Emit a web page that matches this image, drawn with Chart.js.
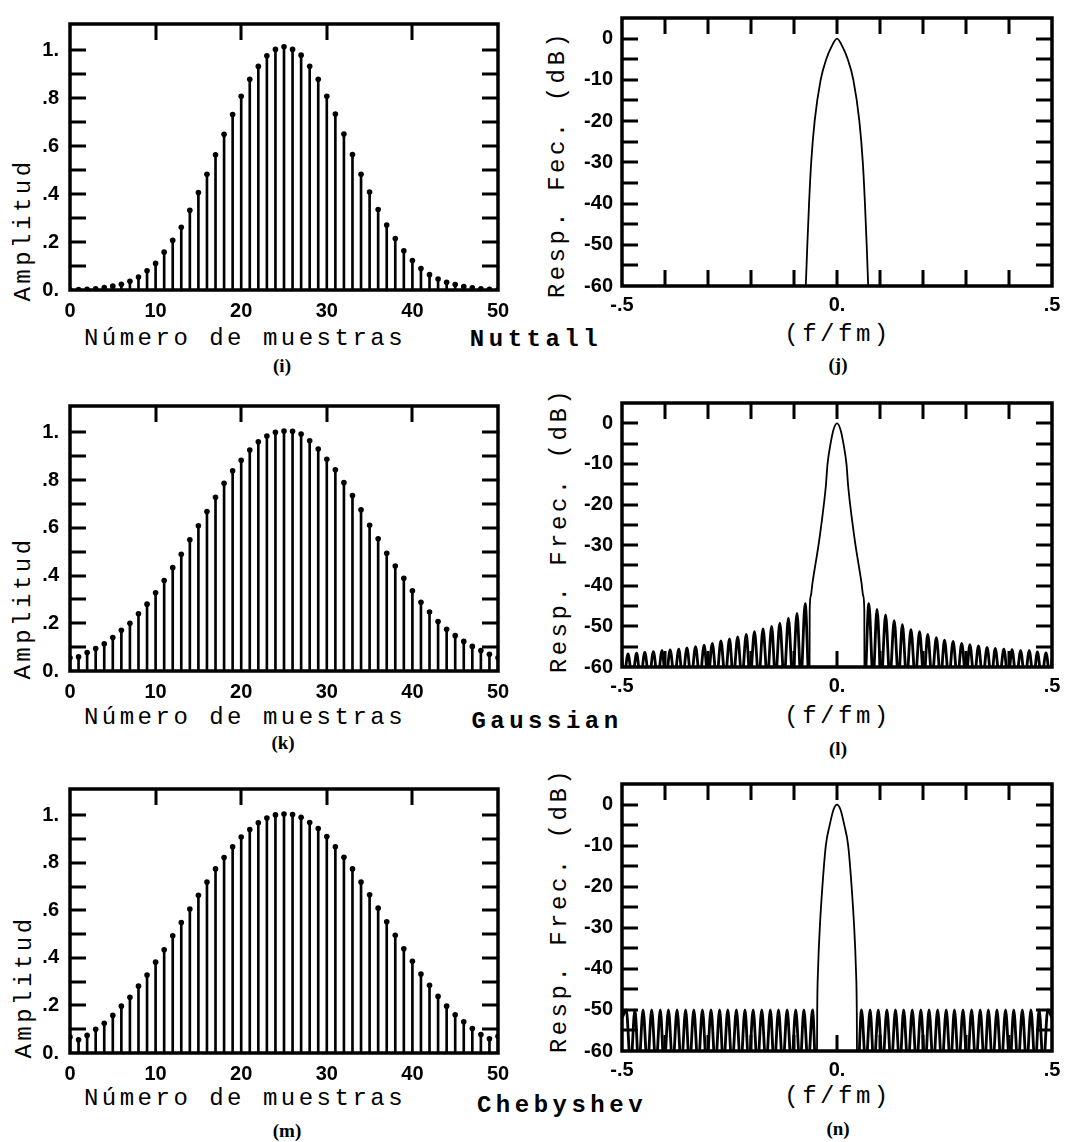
<!DOCTYPE html>
<html>
<head>
  <meta charset="utf-8">
  <title>Ventanas Nuttall, Gaussian, Chebyshev</title>
  <script src="https://cdn.jsdelivr.net/npm/chart.js"></script>
  <style>
    body { margin: 0; background: #fff; }
    #page { position: relative; width: 1076px; height: 1142px; overflow: hidden; background: #fff; }
    canvas { position: absolute; }
    .lbl {
      position: absolute; transform: translate(-50%, -50%); white-space: pre;
      font-family: "Liberation Mono", monospace; font-size: 24px; letter-spacing: 3.5px;
      color: #000; line-height: 1;
    }
    .rot { transform: translate(-50%, -50%) rotate(-90deg); }
    .win { font-weight: bold; letter-spacing: 4.5px; }
    .cap { font-family: "Liberation Serif", serif; font-weight: bold; font-size: 19px; letter-spacing: 0; }
  </style>
</head>
<body>
<div id="page">
  <div class="lbl rot" style="left:24px; top:230px;">Amplitud</div>
  <div class="lbl" style="left:245px; top:339px;">Número de muestras</div>
  <div class="lbl cap" style="left:282px; top:365px;">(i)</div>
  <div class="lbl win" style="left:536px; top:340px;">Nuttall</div>
  <div class="lbl rot" style="left:558px; top:164px;">Resp. Fec. (dB)</div>
  <div class="lbl" style="left:838px; top:335px;">(f/fm)</div>
  <div class="lbl cap" style="left:838px; top:364px;">(j)</div>

  <div class="lbl rot" style="left:24px; top:608px;">Amplitud</div>
  <div class="lbl" style="left:245px; top:718px;">Número de muestras</div>
  <div class="lbl cap" style="left:283px; top:742px;">(k)</div>
  <div class="lbl win" style="left:547px; top:722px;">Gaussian</div>
  <div class="lbl rot" style="left:560px; top:530px;">Resp. Frec. (dB)</div>
  <div class="lbl" style="left:838px; top:717px;">(f/fm)</div>
  <div class="lbl cap" style="left:838px; top:748px;">(l)</div>

  <div class="lbl rot" style="left:25px; top:987px;">Amplitud</div>
  <div class="lbl" style="left:245px; top:1099px;">Número de muestras</div>
  <div class="lbl cap" style="left:287px; top:1130px;">(m)</div>
  <div class="lbl win" style="left:562px; top:1106px;">Chebyshev</div>
  <div class="lbl rot" style="left:560px; top:910px;">Resp. Frec. (dB)</div>
  <div class="lbl" style="left:838px; top:1097px;">(f/fm)</div>
  <div class="lbl cap" style="left:838px; top:1128px;">(n)</div>
</div>

<script>
  // ---- data ----
  const sampleIdx = [0,1,2,3,4,5,6,7,8,9,10,11,12,13,14,15,16,17,18,19,20,21,22,23,24,25,
    26,27,28,29,30,31,32,33,34,35,36,37,38,39,40,41,42,43,44,45,46,47,48,49,50];

  const nuttallAmp = [0.001,0.002,0.003,0.005,0.010,0.016,0.024,0.036,0.054,0.080,
    0.111,0.158,0.207,0.262,0.333,0.407,0.483,0.564,0.650,0.732,
    0.808,0.879,0.933,0.977,1.004,1.015,
    1.004,0.980,0.934,0.879,0.808,0.734,0.651,0.565,0.483,0.409,
    0.336,0.271,0.215,0.164,0.123,0.090,0.064,0.046,0.032,0.023,
    0.014,0.009,0.005,0.003,0.001];

  const gaussAmp = [0.055,0.059,0.077,0.094,0.114,0.140,0.171,0.200,0.240,0.280,
    0.328,0.379,0.433,0.489,0.550,0.608,0.668,0.728,0.786,0.839,
    0.883,0.926,0.960,0.984,1.000,1.005,
    1.004,0.993,0.964,0.930,0.887,0.843,0.789,0.735,0.675,0.610,
    0.554,0.493,0.440,0.388,0.336,0.288,0.247,0.207,0.175,0.148,
    0.124,0.103,0.086,0.070,0.055];

  const chebAmp = [0.067,0.056,0.074,0.100,0.125,0.158,0.197,0.234,0.281,0.328,
    0.382,0.434,0.493,0.549,0.605,0.663,0.719,0.774,0.822,0.867,
    0.908,0.940,0.968,0.988,1.001,1.005,
    1.003,0.991,0.969,0.944,0.910,0.867,0.823,0.774,0.719,0.665,
    0.609,0.552,0.495,0.438,0.386,0.332,0.285,0.238,0.197,0.161,
    0.131,0.103,0.078,0.060,0.070];

  const nuttallFreq = [-0.074,-0.069,-0.065,-0.060,-0.052,-0.038,-0.025,-0.013,0,
    0.013,0.025,0.038,0.052,0.060,0.065,0.069,0.074];
  const nuttallDb = [-64,-50,-40,-30,-20,-10,-5,-2,0,-2,-5,-10,-20,-30,-40,-50,-64];

  const gaussFreq = [-0.500,-0.496,-0.486,-0.476,-0.466,-0.457,-0.447,-0.437,-0.427,-0.417,
    -0.407,-0.398,-0.388,-0.378,-0.368,-0.359,-0.349,-0.339,-0.329,-0.319,
    -0.309,-0.300,-0.290,-0.280,-0.270,-0.260,-0.250,-0.241,-0.231,-0.221,
    -0.211,-0.202,-0.192,-0.182,-0.172,-0.162,-0.152,-0.143,-0.133,-0.123,
    -0.113,-0.103,-0.093,-0.084,-0.074,-0.064,
    -0.0635,-0.061,-0.057,-0.050,-0.043,-0.036,-0.026,-0.022,-0.015,-0.008,0,
    0.008,0.015,0.022,0.026,0.036,0.043,0.050,0.057,0.061,0.0635,
    0.064,0.074,0.084,0.093,0.103,0.113,0.123,0.133,0.143,0.152,
    0.162,0.172,0.182,0.192,0.202,0.211,0.221,0.231,0.241,0.250,
    0.260,0.270,0.280,0.290,0.300,0.309,0.319,0.329,0.339,0.349,
    0.359,0.368,0.378,0.388,0.398,0.407,0.417,0.427,0.437,0.447,
    0.457,0.466,0.476,0.486,0.496,0.500];
  const gaussDb = [-58,-63,-56.8,-63,-56.6,-63,-56.4,-63,-56.2,-63,
    -56.0,-63,-55.8,-63,-55.6,-63,-55.3,-63,-55.0,-63,
    -54.6,-63,-54.2,-63,-53.6,-63,-53.1,-63,-52.6,-63,
    -52.0,-63,-51.3,-63,-50.6,-63,-50.0,-63,-49.2,-63,
    -48.0,-63,-46.8,-63,-44.4,-66,
    -46,-42.5,-39.3,-34.6,-30,-24.6,-15.5,-10,-5,-1.5,0,
    -1.5,-5,-10,-15.5,-24.6,-30,-34.6,-39.3,-42.5,-46,
    -66,-44.4,-63,-45.8,-63,-47.2,-63,-48.6,-63,-49.6,
    -63,-50.8,-63,-51.3,-63,-52.0,-63,-52.8,-63,-53.4,
    -63,-53.7,-63,-54.2,-63,-54.5,-63,-54.8,-63,-55.2,
    -63,-55.4,-63,-55.6,-63,-55.7,-63,-56.0,-63,-56.0,
    -63,-56.3,-63,-56.5,-63,-58];

  const chebFreq = [-0.500,-0.490,-0.480,-0.470,-0.461,-0.451,-0.441,-0.431,-0.421,-0.411,
    -0.402,-0.392,-0.382,-0.372,-0.362,-0.352,-0.343,-0.333,-0.323,-0.313,
    -0.303,-0.293,-0.283,-0.273,-0.264,-0.254,-0.244,-0.234,-0.224,-0.214,
    -0.205,-0.195,-0.185,-0.175,-0.165,-0.155,-0.146,-0.136,-0.126,-0.116,
    -0.106,-0.096,-0.086,-0.077,-0.067,-0.057,-0.047,
    -0.046,-0.044,-0.040,-0.034,-0.026,-0.017,-0.008,0,0.008,0.017,0.026,0.034,0.040,0.044,0.046,
    0.047,0.057,0.067,0.077,0.086,0.096,0.106,0.116,0.126,0.136,
    0.146,0.155,0.165,0.175,0.185,0.195,0.205,0.214,0.224,0.234,
    0.244,0.254,0.264,0.273,0.283,0.293,0.303,0.313,0.323,0.333,
    0.343,0.352,0.362,0.372,0.382,0.392,0.402,0.411,0.421,0.431,
    0.441,0.451,0.461,0.470,0.480,0.490,0.500];
  const chebDb = [-52,-50,-64,-50,-64,-50,-64,-50,-64,-50,
    -64,-50,-64,-50,-64,-50,-64,-50,-64,-50,
    -64,-50,-64,-50,-64,-50,-64,-50,-64,-50,
    -64,-50,-64,-50,-64,-50,-64,-50,-64,-50,
    -64,-50,-64,-50,-64,-50,-70,
    -50,-40,-30,-20,-10,-5,-1.2,0,-1.2,-5,-10,-20,-30,-40,-50,
    -70,-50,-64,-50,-64,-50,-64,-50,-64,-50,
    -64,-50,-64,-50,-64,-50,-64,-50,-64,-50,
    -64,-50,-64,-50,-64,-50,-64,-50,-64,-50,
    -64,-50,-64,-50,-64,-50,-64,-50,-64,-50,
    -64,-50,-64,-50,-64,-50,-52];

  // edge of the main lobe: outside it the side lobes are drawn heavier
  const gaussLobeEdge = 0.064;
  const chebLobeEdge = 0.047;

  const sampleTickVals = [0, 10, 20, 30, 40, 50];
  const sampleTickLabels = ['0', '10', '20', '30', '40', '50'];
  const ampTickVals = [0, 0.2, 0.4, 0.6, 0.8, 1.0];
  const ampTickLabels = ['0.', '.2', '.4', '.6', '.8', '1.'];
  const ampMarks = [0.1, 0.2, 0.3, 0.4, 0.5, 0.6, 0.7, 0.8, 0.9, 1.0];
  const sampleMarks = [10, 20, 30, 40];

  const freqTickVals = [-0.5, 0, 0.5];
  const freqTickLabels = ['-.5', '0.', '.5'];
  const dbTickVals = [-60, -50, -40, -30, -20, -10, 0];
  const dbTickLabels = ['-60', '-50', '-40', '-30', '-20', '-10', '0'];
  const dbMarks = [-55, -50, -45, -40, -35, -30, -25, -20, -15, -10, -5, 0];
  const freqMarks = [-0.4, -0.3, -0.2, -0.1, 0, 0.1, 0.2, 0.3, 0.4];

  // ---- drawing ----
  Chart.defaults.font.family = 'Liberation Sans';
  Chart.defaults.font.size = 20;
  Chart.defaults.font.weight = 'bold';
  Chart.defaults.color = '#000';

  const tickFont = { family: 'Liberation Sans', weight: 'bold', size: 20 };
  const PAD_TOP = 12, X_AXIS_H = 45;

  // box frame and inward tick marks, one plugin per chart
  function framePlugin(yMarks, topMarks, bottomMarks) {
    return {
      id: 'frame',
      afterDraw(chart) {
        const { ctx, chartArea: a, scales } = chart;
        const len = 16;
        ctx.save();
        ctx.strokeStyle = '#000';
        ctx.lineWidth = 3;
        ctx.beginPath();
        yMarks.forEach(v => {
          const y = Math.round(scales.y.getPixelForValue(v));
          ctx.moveTo(a.left, y); ctx.lineTo(a.left + len, y);
          ctx.moveTo(a.right, y); ctx.lineTo(a.right - len, y);
        });
        topMarks.forEach(v => {
          const x = Math.round(scales.x.getPixelForValue(v));
          ctx.moveTo(x, a.top); ctx.lineTo(x, a.top + len);
        });
        bottomMarks.forEach(v => {
          const x = Math.round(scales.x.getPixelForValue(v));
          ctx.moveTo(x, a.bottom); ctx.lineTo(x, a.bottom - len);
        });
        ctx.stroke();
        ctx.lineWidth = 3.5;
        ctx.strokeRect(a.left, a.top, a.right - a.left, a.bottom - a.top);
        ctx.restore();
      }
    };
  }

  function makeCanvas(box) {
    const cv = document.createElement('canvas');
    const h = PAD_TOP + (box.bottom - box.top) + X_AXIS_H;
    cv.width = box.width; cv.height = h;
    cv.style.left = box.left + 'px';
    cv.style.top = (box.top - PAD_TOP) + 'px';
    document.getElementById('page').appendChild(cv);
    return cv;
  }

  function scaleOpts(min, max, vals, labels, pad, fit) {
    return {
      type: 'linear', min: min, max: max, offset: false,
      grid: { display: false, drawTicks: false },
      border: { display: false },
      afterBuildTicks: s => { s.ticks = vals.map(v => ({ value: v })); },
      afterFit: fit,
      ticks: {
        autoSkip: false, maxRotation: 0, padding: pad, color: '#000', font: tickFont,
        callback: (v, i) => labels[i]
      }
    };
  }

  function stemChart(box, amps) {
    const pts = sampleIdx.map((n, i) => ({ x: n, y: amps[i] }));
    return new Chart(makeCanvas(box), {
      type: 'bar',
      data: {
        datasets: [
          { type: 'bar', data: pts, backgroundColor: '#000', barThickness: 2, borderWidth: 0, order: 2 },
          { type: 'scatter', data: pts, pointRadius: 2.8, pointBackgroundColor: '#000',
            pointBorderWidth: 0, order: 1 }
        ]
      },
      options: {
        responsive: false, animation: false,
        layout: { padding: { top: PAD_TOP, right: box.width - 498 + box.left, left: 0, bottom: 0 } },
        plugins: { legend: { display: false }, tooltip: { enabled: false } },
        scales: {
          x: scaleOpts(0, 50, sampleTickVals, sampleTickLabels, 9, s => { s.height = X_AXIS_H; }),
          y: scaleOpts(0, 1.11, ampTickVals, ampTickLabels, 11, s => { s.width = 70; })
        }
      },
      plugins: [framePlugin(ampMarks, sampleMarks, [])]
    });
  }

  function respChart(box, freq, db, lobeEdge) {
    const pts = freq.map((f, i) => ({ x: f, y: db[i] }));
    return new Chart(makeCanvas(box), {
      type: 'scatter',
      data: {
        datasets: [{
          data: pts, showLine: true, pointRadius: 0, borderColor: '#000', borderWidth: 1.8,
          cubicInterpolationMode: 'monotone',
          segment: {
            borderWidth: c => (Math.abs(c.p0.parsed.x) >= lobeEdge - 1e-6 &&
              Math.abs(c.p1.parsed.x) >= lobeEdge - 1e-6) ? 2.8 : 1.8
          }
        }]
      },
      options: {
        responsive: false, animation: false,
        layout: { padding: { top: PAD_TOP, right: 24, left: 0, bottom: 0 } },
        plugins: { legend: { display: false }, tooltip: { enabled: false } },
        scales: {
          x: scaleOpts(-0.5, 0.5, freqTickVals, freqTickLabels, 7, s => { s.height = X_AXIS_H; }),
          y: scaleOpts(-60, 5, dbTickVals, dbTickLabels, 9, s => { s.width = 82; })
        }
      },
      plugins: [framePlugin(dbMarks, freqMarks, freqMarks)]
    });
  }

  stemChart({ left: 0, width: 530, top: 13, bottom: 290 }, nuttallAmp);
  stemChart({ left: 0, width: 530, top: 395, bottom: 671 }, gaussAmp);
  stemChart({ left: 0, width: 530, top: 778, bottom: 1053 }, chebAmp);

  respChart({ left: 540, width: 536, top: 9, bottom: 286 }, nuttallFreq, nuttallDb, 1);
  respChart({ left: 540, width: 536, top: 394, bottom: 667 }, gaussFreq, gaussDb, gaussLobeEdge);
  respChart({ left: 540, width: 536, top: 775, bottom: 1051 }, chebFreq, chebDb, chebLobeEdge);
</script>
</body>
</html>
